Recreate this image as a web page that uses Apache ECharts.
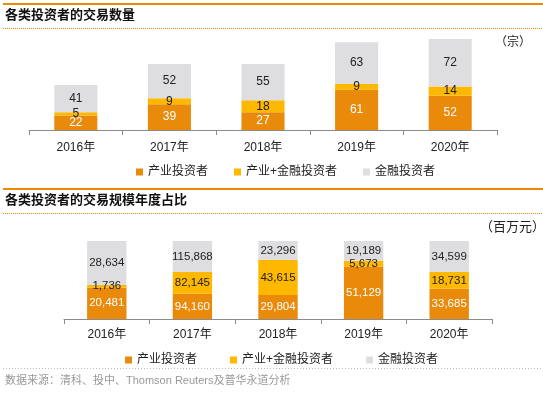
<!DOCTYPE html>
<html>
<head>
<meta charset="utf-8">
<script src="https://cdn.jsdelivr.net/npm/echarts@6/dist/echarts.min.js"></script>
<style>
  html, body { margin: 0; padding: 0; background: #fff; }
  #chart { width: 543px; height: 399px; }
</style>
</head>
<body>
<div id="chart"></div>
<script>
// 年份
var years = ['2016年', '2017年', '2018年', '2019年', '2020年'];
var seriesNames = ['产业投资者', '产业+金融投资者', '金融投资者'];

// 交易数量（宗）
var countIndustry = [22, 39, 27, 61, 52];
var countMixed = [5, 9, 18, 9, 14];
var countFinancial = [41, 52, 55, 63, 72];

// 交易规模（百万元）
var amtIndustry = [20481, 94160, 29804, 51129, 33685];
var amtMixed = [1736, 82145, 43615, 5673, 18731];
var amtFinancial = [28634, 115868, 23296, 19189, 34599];

var colors = ['#E98A0B', '#FFB800', '#DEDDE0'];
var font = 'Liberation Sans, Noto Sans CJK SC, sans-serif';

function share(arr, i) {
  var total = amtIndustry[i] + amtMixed[i] + amtFinancial[i];
  return arr[i] / total * 100;
}
function fmt(n) {
  return String(n).replace(/\B(?=(\d{3})+(?!\d))/g, ',');
}

var amtArrays = [amtIndustry, amtMixed, amtFinancial];
var countArrays = [countIndustry, countMixed, countFinancial];

var series = [];
countArrays.forEach(function (arr, k) {
  series.push({
    name: seriesNames[k],
    type: 'bar',
    stack: 'count',
    xAxisIndex: 0,
    yAxisIndex: 0,
    barWidth: '46%',
    itemStyle: { color: colors[k] },
    label: {
      show: true,
      position: 'inside',
      fontFamily: font,
      fontSize: 12,
      color: k === 0 ? '#fff' : '#222'
    },
    data: arr
  });
});
amtArrays.forEach(function (arr, k) {
  series.push({
    name: seriesNames[k],
    type: 'bar',
    stack: 'amount',
    xAxisIndex: 1,
    yAxisIndex: 1,
    barWidth: '46%',
    itemStyle: { color: colors[k] },
    label: {
      show: true,
      position: 'inside',
      fontFamily: font,
      fontSize: 11.5,
      color: k === 0 ? '#fff' : '#222',
      formatter: function (p) { return fmt(arr[p.dataIndex]); }
    },
    data: years.map(function (y, i) { return share(arr, i); })
  });
});

var axisCommon = {
  type: 'category',
  data: years,
  axisLine: { lineStyle: { color: '#8c8c8c', width: 1 } },
  axisTick: { show: true, length: 5, lineStyle: { color: '#8c8c8c' } },
  axisLabel: { color: '#222', fontSize: 12, fontFamily: font }
};

var option = {
  animation: false,
  textStyle: { fontFamily: font },
  grid: [
    { left: 29, right: 46, top: 31, bottom: 269 },
    { left: 64, right: 51, top: 241, bottom: 80 }
  ],
  xAxis: [
    Object.assign({}, axisCommon, { gridIndex: 0, axisLabel: Object.assign({}, axisCommon.axisLabel, { margin: 12 }) }),
    Object.assign({}, axisCommon, { gridIndex: 1, axisLabel: Object.assign({}, axisCommon.axisLabel, { margin: 10 }) })
  ],
  yAxis: [
    { type: 'value', gridIndex: 0, min: 0, max: 150, show: false },
    { type: 'value', gridIndex: 1, min: 0, max: 100, show: false }
  ],
  legend: [
    {
      left: 131, top: 161,
      itemWidth: 7, itemHeight: 7, itemGap: 26,
      icon: 'rect',
      textStyle: { fontSize: 12, color: '#222', fontFamily: font },
      data: seriesNames
    },
    {
      left: 120, top: 349,
      itemWidth: 7, itemHeight: 7, itemGap: 33,
      icon: 'rect',
      textStyle: { fontSize: 12, color: '#222', fontFamily: font },
      data: seriesNames
    }
  ],
  graphic: [
    { type: 'line', shape: { x1: 3, y1: 4, x2: 543, y2: 4 }, style: { stroke: '#EB8C00', lineWidth: 2 } },
    { type: 'text', left: 5, top: 9, style: { text: '各类投资者的交易数量', fontSize: 13, fontWeight: 'bold', fill: '#111', fontFamily: font } },
    { type: 'line', shape: { x1: 3, y1: 28.5, x2: 543, y2: 28.5 }, style: { stroke: '#EB8C00', lineWidth: 1, lineDash: [1, 1] } },
    { type: 'text', left: 495, top: 37, style: { text: '（宗）', fontSize: 12, fill: '#222', fontFamily: font } },

    { type: 'line', shape: { x1: 3, y1: 189, x2: 543, y2: 189 }, style: { stroke: '#EB8C00', lineWidth: 2 } },
    { type: 'text', left: 5, top: 194, style: { text: '各类投资者的交易规模年度占比', fontSize: 13, fontWeight: 'bold', fill: '#111', fontFamily: font } },
    { type: 'line', shape: { x1: 3, y1: 213.5, x2: 543, y2: 213.5 }, style: { stroke: '#EB8C00', lineWidth: 1, lineDash: [1, 1] } },
    { type: 'text', x: 480, y: 221, style: { text: '（百万元）', fontSize: 13, fill: '#222', fontFamily: font } },

    { type: 'line', shape: { x1: 3, y1: 368.5, x2: 543, y2: 368.5 }, style: { stroke: '#bbb', lineWidth: 1, lineDash: [1, 2] } },
    { type: 'text', left: 5, top: 375, style: { text: '数据来源：清科、投中、Thomson Reuters及普华永道分析', fontSize: 11, fill: '#999', fontFamily: font } }
  ],
  series: series
};

var chart = echarts.init(document.getElementById('chart'));
chart.setOption(option);
</script>
</body>
</html>
